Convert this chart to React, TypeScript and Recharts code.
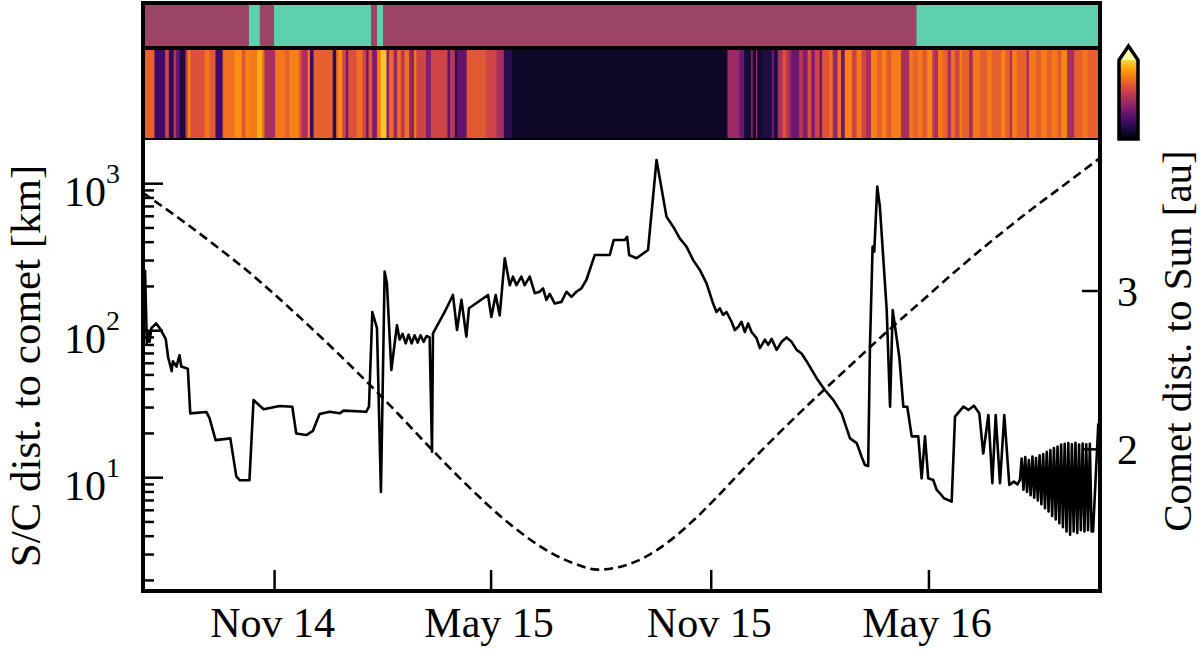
import React from 'react';
import { ComposedChart, Line, XAxis, YAxis, ReferenceArea } from 'recharts';

const FONT = '"Liberation Serif", "Times New Roman", serif';

// x is days since 1 Nov 2014
const X_DOMAIN: [number, number] = [-110, 690];
const X_TICKS = [0, 181, 365, 547];
const X_LABELS = ['Nov 14', 'May 15', 'Nov 15', 'May 16'];

const KM_DOMAIN: [number, number] = [1.695, 1982];
const KM_TICKS = [2, 3, 4, 5, 6, 7, 8, 9, 10, 20, 30, 40, 50, 60, 70, 80, 90, 100, 200, 300, 400, 500, 600, 700, 800, 900, 1000];
const AU_DOMAIN: [number, number] = [1.105, 3.954];
const AU_TICKS = [2, 3];

// top band: phase segments (0 = purple, 1 = teal)
const BAND_START = [-110, -21, -12, 0, 81, 86, 91, 537];
const BAND_PHASE = [0, 1, 0, 1, 0, 1, 0, 1];
const BAND_COLORS = ['#9b4566', '#5ecfaf'];

// heat strip: segment start day and colour level (0..1 on inferno)
const HEAT_START = [
  -110, -100, -91, -88, -84, -82, -79, -74, -72, -70, -58, -54, -49, -43, -33, -27, -24, -20, -14, -10,
  -8, 1, 9, 13, 21, 23, 28, 30, 33, 49, 52, 54, 57, 60, 62, 69, 74, 77, 79, 82,
  86, 89, 94, 96, 100, 103, 106, 109, 113, 117, 119, 127, 131, 145, 147, 151, 153, 161, 177, 186,
  192, 199, 379, 389, 393, 399, 400, 403, 404, 408, 416, 418, 421, 425, 428, 431, 433, 439, 442, 446,
  449, 452, 456, 458, 464, 467, 471, 474, 477, 483, 487, 491, 495, 499, 504, 508, 512, 516, 524, 531,
  534, 538, 542, 546, 550, 552, 555, 559, 563, 566, 569, 573, 575, 581, 584, 590, 596, 600, 608, 611,
  615, 617, 621, 629, 631, 637, 641, 646, 650, 655, 658, 663, 669, 676, 680,
];
const HEAT_LEVEL = [
  0.64, 0.2, 0.55, 0.15, 0.5, 0.3, 0.12, 0.55, 0.72, 0.6, 0.7, 0.62, 0.2, 0.68, 0.75, 0.6, 0.72, 0.7, 0.82, 0.68,
  0.45, 0.7, 0.64, 0.72, 0.6, 0.45, 0.7, 0.2, 0.64, 0.15, 0.68, 0.75, 0.55, 0.3, 0.6, 0.68, 0.55, 0.3, 0.62, 0.35,
  0.7, 0.86, 0.35, 0.66, 0.4, 0.68, 0.5, 0.68, 0.4, 0.7, 0.55, 0.35, 0.55, 0.25, 0.5, 0.15, 0.28, 0.62, 0.55, 0.45,
  0.15, 0.07, 0.42, 0.3, 0.1, 0.45, 0.1, 0.45, 0.08, 0.12, 0.3, 0.12, 0.45, 0.6, 0.5, 0.35, 0.3, 0.5, 0.35, 0.6,
  0.35, 0.55, 0.3, 0.6, 0.68, 0.4, 0.68, 0.3, 0.72, 0.55, 0.7, 0.55, 0.45, 0.72, 0.64, 0.72, 0.62, 0.71, 0.45, 0.7,
  0.64, 0.7, 0.62, 0.73, 0.55, 0.45, 0.7, 0.64, 0.45, 0.68, 0.55, 0.72, 0.64, 0.45, 0.7, 0.63, 0.7, 0.64, 0.73, 0.64,
  0.45, 0.71, 0.64, 0.45, 0.7, 0.63, 0.71, 0.64, 0.7, 0.62, 0.73, 0.45, 0.64, 0.7, 0.64,
];

// spacecraft distance to comet [km] as [day, km]
const SC_TRACK: [number, number][] = [
  [-108.3, 260], [-106.8, 82], [-106, 96], [-105, 96], [-104.5, 84], [-103, 104], [-99, 112], [-96, 104],
  [-91, 88], [-89, 66], [-86, 53], [-85, 62], [-82, 57], [-79.5, 68], [-78, 57], [-72.5, 55],
  [-70.5, 27.4], [-57, 28], [-54.4, 25.4], [-49.3, 18], [-37, 18.5], [-32, 10.2], [-29, 9.6], [-21, 9.6],
  [-17.6, 33.8], [-9.2, 29.2], [4.2, 30.7], [14.8, 30.4], [18.1, 20], [26.5, 19.5], [32, 20.8], [37.6, 27.1],
  [46, 28.1], [54.4, 27.4], [57.7, 28.6], [76.7, 28.1], [78.9, 30.4], [81.7, 134], [85.6, 104], [88.9, 8.0],
  [92, 252], [93.9, 210], [97.6, 54], [102.3, 109], [104.5, 87], [107, 95], [109.6, 82], [112, 94],
  [114.6, 82], [117, 93], [119.6, 83], [122, 93], [124.6, 84], [127, 92], [129.6, 90], [131.6, 15],
  [132.4, 96], [142.2, 134], [149.1, 175], [152.5, 101], [156.2, 162], [160.3, 91], [162.5, 142], [178.4, 175],
  [181.2, 124], [184.8, 175], [188.2, 127], [192.4, 311], [196.6, 204], [199.3, 233], [202.2, 204], [206.3, 233],
  [209.1, 204], [213.3, 233], [217.5, 180], [221.6, 184], [224.4, 194], [227.2, 162], [230, 178], [234.2, 153],
  [239.8, 157], [244, 184], [248.2, 170], [252.3, 184], [256.5, 194], [260.7, 222], [267.6, 327], [280.2, 327],
  [283.5, 414], [292.7, 414], [294.7, 435], [296.4, 327], [302.5, 311], [312.2, 354], [319.3, 1450], [327.6, 597],
  [333.2, 510], [338.7, 425], [344.3, 374], [349.9, 302], [355.5, 259], [361.1, 210], [366.6, 153], [369.4, 134],
  [372.2, 142], [374.9, 128], [377.8, 134], [382, 115], [384.7, 101], [387.5, 106], [390.3, 115], [393.1, 98],
  [395.9, 112], [398.7, 98], [402.9, 89], [405.7, 76], [409.9, 87], [412.6, 80], [415.5, 88], [419.7, 74],
  [423.8, 84], [428, 90], [432.2, 84], [436.4, 74], [440.5, 70], [444.7, 62], [453.1, 47.5], [460, 39.5],
  [467, 33.8], [474, 27.4], [481, 18.5], [486.6, 17.2], [490.7, 13.9], [493.5, 12.2], [496.2, 12.0], [497.7, 78],
  [499.9, 374], [501.3, 345], [503.8, 955], [506, 697], [511.7, 138], [514.5, 30.4], [516.7, 138], [522.2, 66.5],
  [525.6, 30.4], [528.9, 30.4], [532.6, 19.1], [538.1, 19.1], [540.9, 9.9], [543.7, 19.1], [546.4, 9.9], [550.6, 9.65],
  [553.5, 8.25], [556.2, 7.83], [559.6, 7.24], [566, 6.87], [568.8, 26], [575.8, 30.4], [580, 28.9], [584.6, 30.9],
  [589.1, 27.4], [592.4, 14.6], [596.7, 26.7], [600, 9.17], [602.8, 26.7], [606.4, 9.17], [610, 26.7], [614.2, 8.92],
  [618, 9.4], [621, 9.0], [623.1, 9.65],
  [624.5, 13.5], [626, 8.3], [627.5, 13.8], [629, 8.0], [630.5, 13.2], [632, 7.6], [633.5, 13.9], [635, 7.3],
  [636.5, 13.6], [638, 7.0], [639.5, 14.2], [641, 6.6], [642.5, 14.5], [644, 6.2], [645.5, 15.0], [647, 5.9],
  [648.5, 15.4], [650, 5.5], [651.5, 15.9], [653, 5.2], [654.5, 16.3], [656, 4.9], [657.5, 16.8], [659, 4.6],
  [660.5, 17.0], [662, 4.3], [663.5, 17.2], [665, 4.1], [666.5, 16.9], [668, 4.3], [669.5, 17.3], [671, 4.2],
  [672.5, 16.8], [674, 4.4], [675.5, 17.1], [677, 4.3], [678.5, 16.9], [680, 4.4], [681.5, 17.0], [683, 4.3],
  [684.2, 4.3], [688.6, 23.4],
];

// comet heliocentric distance [au] as [day, au]
const SUN_TRACK: [number, number][] = [
  [-110, 3.62], [-80, 3.46], [-50, 3.29], [-20, 3.11], [10, 2.91], [40, 2.7], [70, 2.48], [100, 2.25],
  [130, 2.01], [160, 1.78], [190, 1.57], [210, 1.45], [230, 1.35], [250, 1.28], [270, 1.24], [290, 1.26],
  [310, 1.32], [330, 1.42], [350, 1.55], [370, 1.7], [390, 1.86], [420, 2.09], [450, 2.31], [480, 2.52],
  [510, 2.73], [540, 2.93], [570, 3.13], [600, 3.32], [630, 3.5], [660, 3.67], [690, 3.84],
];

const INFERNO = ['#000004', '#160b39', '#420a68', '#6a176e', '#932667', '#bc3754', '#dd513a', '#f37819', '#fca50a', '#f6d746', '#fcffa4'];

function inferno(t: number) {
  const s = Math.min(Math.max(t, 0), 1) * 10;
  const i = Math.min(Math.floor(s), 9);
  const f = s - i;
  const a = INFERNO[i], b = INFERNO[i + 1];
  const ch = (h: string, k: number) => parseInt(h.slice(1 + 2 * k, 3 + 2 * k), 16);
  const c = [0, 1, 2].map((k) => Math.round(ch(a, k) + (ch(b, k) - ch(a, k)) * f));
  return `rgb(${c[0]},${c[1]},${c[2]})`;
}

const bandRows = BAND_START.map((s, i) => ({
  start: s,
  end: i + 1 < BAND_START.length ? BAND_START[i + 1] : X_DOMAIN[1],
  color: BAND_COLORS[BAND_PHASE[i]],
}));
const heatRows = HEAT_START.map((s, i) => ({
  start: s,
  end: i + 1 < HEAT_START.length ? HEAT_START[i + 1] : X_DOMAIN[1],
  color: inferno(HEAT_LEVEL[i]),
}));
const scRows = SC_TRACK.map(([day, km]) => ({ day, km }));
const sunRows = SUN_TRACK.map(([day, au]) => ({ day, au }));

const AXIS_LINE = { stroke: '#000', strokeWidth: 4, strokeLinecap: 'square' as const };

const KmTick = (props: any) => {
  const { x, y, payload } = props;
  const lg = Math.log10(payload.value);
  const exp = Math.round(lg);
  const major = Math.abs(lg - exp) < 1e-6;
  return (
    <g>
      <line x1={x} y1={y} x2={x + (major ? 20 : 11)} y2={y} stroke="#000" strokeWidth={2.5} />
      {major && (
        <text x={x - 23} y={y + 22} textAnchor="end" fontSize={42} fontFamily={FONT} fill="#000">
          10<tspan dy={-23} fontSize={28}>{exp}</tspan>
        </text>
      )}
    </g>
  );
};

const AuTick = (props: any) => {
  const { x, y, payload } = props;
  return (
    <g>
      <line x1={x} y1={y} x2={x - 18} y2={y} stroke="#000" strokeWidth={2.5} />
      <text x={x + 17} y={y + 15} textAnchor="start" fontSize={42} fontFamily={FONT} fill="#000">
        {payload.value}
      </text>
    </g>
  );
};

const DateTick = (props: any) => {
  const { x, y, payload } = props;
  const label = X_LABELS[X_TICKS.indexOf(payload.value)];
  return (
    <g>
      <line x1={x} y1={y} x2={x} y2={y - 21} stroke="#000" strokeWidth={2.5} />
      <text x={x - 2} y={y + 46} textAnchor="middle" fontSize={42} fontFamily={FONT} fill="#000">
        {label}
      </text>
    </g>
  );
};

const TopTick = (props: any) => {
  const { x, y } = props;
  return <line x1={x} y1={y} x2={x} y2={y + 18} stroke="#000" strokeWidth={2.5} />;
};

const Strip = ({ rows, top, bottom }: { rows: { start: number; end: number; color: string }[]; top: number; bottom: number }) => (
  <ComposedChart width={1200} height={bottom} margin={{ top, right: 100, bottom: 0, left: 143 }} data={rows}>
    <XAxis type="number" dataKey="start" domain={X_DOMAIN} allowDataOverflow hide />
    <YAxis type="number" domain={[0, 1]} allowDataOverflow hide />
    {rows.map((r, i) => (
      <ReferenceArea
        key={i}
        x1={r.start}
        x2={r.end}
        y1={0}
        y2={1}
        fill={r.color}
        fillOpacity={1}
        stroke={r.color}
        strokeWidth={1}
      />
    ))}
    <ReferenceArea x1={X_DOMAIN[0]} x2={X_DOMAIN[1]} y1={0} y2={1} fill="none" stroke="#000" strokeWidth={4} />
  </ComposedChart>
);

export default function App() {
  const abs: React.CSSProperties = { position: 'absolute', left: 0, top: 0 };
  return (
    <div style={{ position: 'absolute', left: 0, top: 0, width: 1200, height: 649, background: '#fff', fontFamily: FONT }}>
      <div style={abs}>
        <Strip rows={bandRows} top={3} bottom={48} />
      </div>
      <div style={abs}>
        <Strip rows={heatRows} top={48} bottom={140} />
      </div>
      <div style={abs}>
        <ComposedChart width={1200} height={649} margin={{ top: 140, right: 40, bottom: 8, left: 63 }}>
          <XAxis
            xAxisId="bottom"
            type="number"
            dataKey="day"
            domain={X_DOMAIN}
            allowDataOverflow
            ticks={X_TICKS}
            interval={0}
            height={50}
            axisLine={AXIS_LINE}
            tickLine={false}
            tickSize={0}
            tickMargin={0}
            tick={<DateTick />}
          />
          <XAxis
            xAxisId="top"
            orientation="top"
            type="number"
            dataKey="day"
            domain={X_DOMAIN}
            allowDataOverflow
            ticks={X_TICKS}
            interval={0}
            height={0}
            axisLine={AXIS_LINE}
            tickLine={false}
            tickSize={0}
            tickMargin={0}
            tick={<TopTick />}
          />
          <YAxis
            yAxisId="left"
            scale="log"
            type="number"
            domain={KM_DOMAIN}
            allowDataOverflow
            ticks={KM_TICKS}
            interval={0}
            width={80}
            axisLine={AXIS_LINE}
            tickLine={false}
            tickSize={0}
            tickMargin={0}
            tick={<KmTick />}
          />
          <YAxis
            yAxisId="right"
            orientation="right"
            type="number"
            domain={AU_DOMAIN}
            allowDataOverflow
            ticks={AU_TICKS}
            interval={0}
            width={60}
            axisLine={AXIS_LINE}
            tickLine={false}
            tickSize={0}
            tickMargin={0}
            tick={<AuTick />}
          />
          <Line
            data={sunRows}
            xAxisId="top"
            yAxisId="right"
            dataKey="au"
            type="monotone"
            stroke="#000"
            strokeWidth={2.6}
            strokeDasharray="9 5"
            dot={false}
            isAnimationActive={false}
          />
          <Line
            data={scRows}
            xAxisId="bottom"
            yAxisId="left"
            dataKey="km"
            type="linear"
            stroke="#000"
            strokeWidth={2.6}
            strokeLinejoin="round"
            dot={false}
            isAnimationActive={false}
          />
        </ComposedChart>
      </div>
      <svg width={1200} height={649} style={{ ...abs, pointerEvents: 'none' }}>
        <defs>
          <linearGradient id="cbar" x1="0" y1="1" x2="0" y2="0">
            {INFERNO.slice(0, 10).map((c, i) => (
              <stop key={i} offset={`${(i / 9) * 100}%`} stopColor={c} />
            ))}
          </linearGradient>
        </defs>
        <text transform="translate(25,366) rotate(-90)" textAnchor="middle" dominantBaseline="central" fontSize={43} fontFamily={FONT} fill="#000">
          S/C dist. to comet [km]
        </text>
        <text transform="translate(1177,341) rotate(-90)" textAnchor="middle" dominantBaseline="central" fontSize={41} fontFamily={FONT} fill="#000">
          Comet dist. to Sun [au]
        </text>
        <polygon points="1119,60 1128.5,46 1138,60" fill="#fcffa4" />
        <rect x={1119} y={60} width={19} height={79} fill="url(#cbar)" />
        <path d="M1119,139 L1119,60 L1128.5,46 L1138,60 L1138,139 Z" fill="none" stroke="#000" strokeWidth={3.5} strokeLinejoin="miter" />
      </svg>
    </div>
  );
}
